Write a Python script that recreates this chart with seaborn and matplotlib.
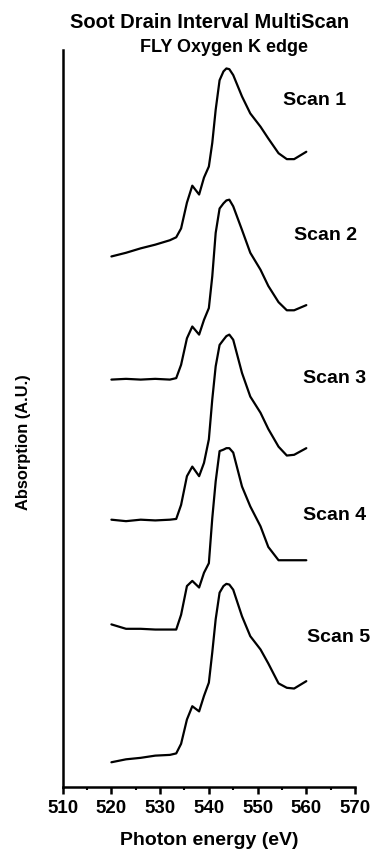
import numpy as np
import pandas as pd
import matplotlib
matplotlib.use("Agg")
import matplotlib.pyplot as plt
from matplotlib.ticker import MultipleLocator
import seaborn as sns

# Photon energy grid (eV) shared by all scans
energy = [520, 523, 526, 529, 532, 533.3, 534.3, 535.5, 536.6, 538, 539, 540,
          540.7, 541.4, 542.2, 543, 543.6, 544.2, 545, 546.8, 548.5, 550.6,
          552.2, 554.3, 556, 557.5, 560]

# Stacked absorption traces (A.U.), each scan already offset vertically
scan1 = [72.0, 72.5, 73.1, 73.6, 74.2, 74.6, 75.8, 79.3, 81.6, 80.4, 82.7, 84.2,
         87.4, 91.9, 95.9, 97.1, 97.5, 97.4, 96.6, 93.7, 91.4, 89.6,
         88.0, 86.0, 85.2, 85.2, 86.2]
scan2 = [55.3, 55.4, 55.3, 55.4, 55.3, 55.5, 57.3, 60.9, 62.5, 61.4, 63.4, 65.0,
         69.3, 75.2, 78.5, 79.2, 79.6, 79.7, 78.8, 75.6, 72.5, 70.2,
         68.0, 65.8, 64.7, 64.7, 65.4]
scan3 = [36.3, 36.1, 36.3, 36.2, 36.3, 36.4, 38.3, 42.2, 43.5, 42.2, 44.0, 47.2,
         52.6, 57.1, 60.0, 60.7, 61.2, 61.4, 60.7, 56.2, 53.0, 50.8,
         48.6, 46.2, 45.0, 45.1, 46.0]
scan4 = [22.1, 21.5, 21.5, 21.4, 21.4, 21.4, 23.4, 27.3, 28.0, 27.1, 29.1, 30.4,
         36.5, 41.5, 45.6, 45.8, 46.0, 46.0, 45.4, 40.8, 38.1, 35.4,
         32.6, 30.8, 30.8, 30.8, 30.8]
scan5 = [3.4, 3.8, 4.0, 4.3, 4.4, 4.6, 5.9, 9.2, 11.0, 10.3, 12.4, 14.2,
         18.3, 22.8, 26.4, 27.3, 27.6, 27.5, 26.8, 23.2, 20.5, 18.7,
         16.8, 14.1, 13.5, 13.4, 14.4]

scan_names = ["Scan 1", "Scan 2", "Scan 3", "Scan 4", "Scan 5"]
label_x = [561.6, 564.0, 565.7, 565.9, 566.7]
label_y = [93.1, 74.9, 55.5, 36.9, 20.3]

traces = [scan1, scan2, scan3, scan4, scan5]
df = pd.concat(
    [pd.DataFrame({"energy": energy, "absorption": tr, "scan": name})
     for name, tr in zip(scan_names, traces)],
    ignore_index=True,
)

sns.set_style("ticks")
plt.rcParams["font.family"] = ["Liberation Sans", "DejaVu Sans"]
plt.rcParams["font.weight"] = "bold"
plt.rcParams["text.color"] = "black"
plt.rcParams["axes.labelcolor"] = "black"
plt.rcParams["xtick.color"] = "black"

fig = plt.figure(figsize=(3.74, 8.52), dpi=100)
ax = fig.add_axes([0.1676, 0.0759, 0.7817, 0.8654])

sns.lineplot(data=df, x="energy", y="absorption", units="scan",
             estimator=None, sort=False, color="black", linewidth=1.6, ax=ax)

for name, x, y in zip(scan_names, label_x, label_y):
    ax.text(x, y, name, ha="center", va="center", fontsize=14,
            fontweight="bold", color="black")

ax.set_xlim(510, 570)
ax.set_ylim(0, 100)
ax.xaxis.set_major_locator(MultipleLocator(10))
ax.xaxis.set_minor_locator(MultipleLocator(5))
ax.set_yticks([])
ax.tick_params(axis="x", which="major", direction="out", length=5, width=1.8,
               labelsize=13.5, pad=4, colors="black")
ax.tick_params(axis="x", which="minor", direction="out", length=2.5, width=1.5)
for lbl in ax.get_xticklabels():
    lbl.set_fontweight("bold")

sns.despine(ax=ax)
for side in ("left", "bottom"):
    ax.spines[side].set_linewidth(1.8)
    ax.spines[side].set_color("black")

ax.set_xlabel("Photon energy (eV)", fontsize=14, fontweight="bold", va="center")
ax.set_ylabel("Absorption (A.U.)", fontsize=11.8, fontweight="bold", va="center")
ax.xaxis.set_label_coords(0.5, -0.0715)
ax.yaxis.set_label_coords(-0.135, 0.468)

fig.text(0.559, 1 - 22 / 852, "Soot Drain Interval MultiScan", ha="center",
         va="center", fontsize=14.5, fontweight="bold")
fig.text(0.599, 1 - 47 / 852, "FLY Oxygen K edge", ha="center", va="center",
         fontsize=13, fontweight="bold")

fig.savefig("out.png", dpi=100, facecolor="white")
